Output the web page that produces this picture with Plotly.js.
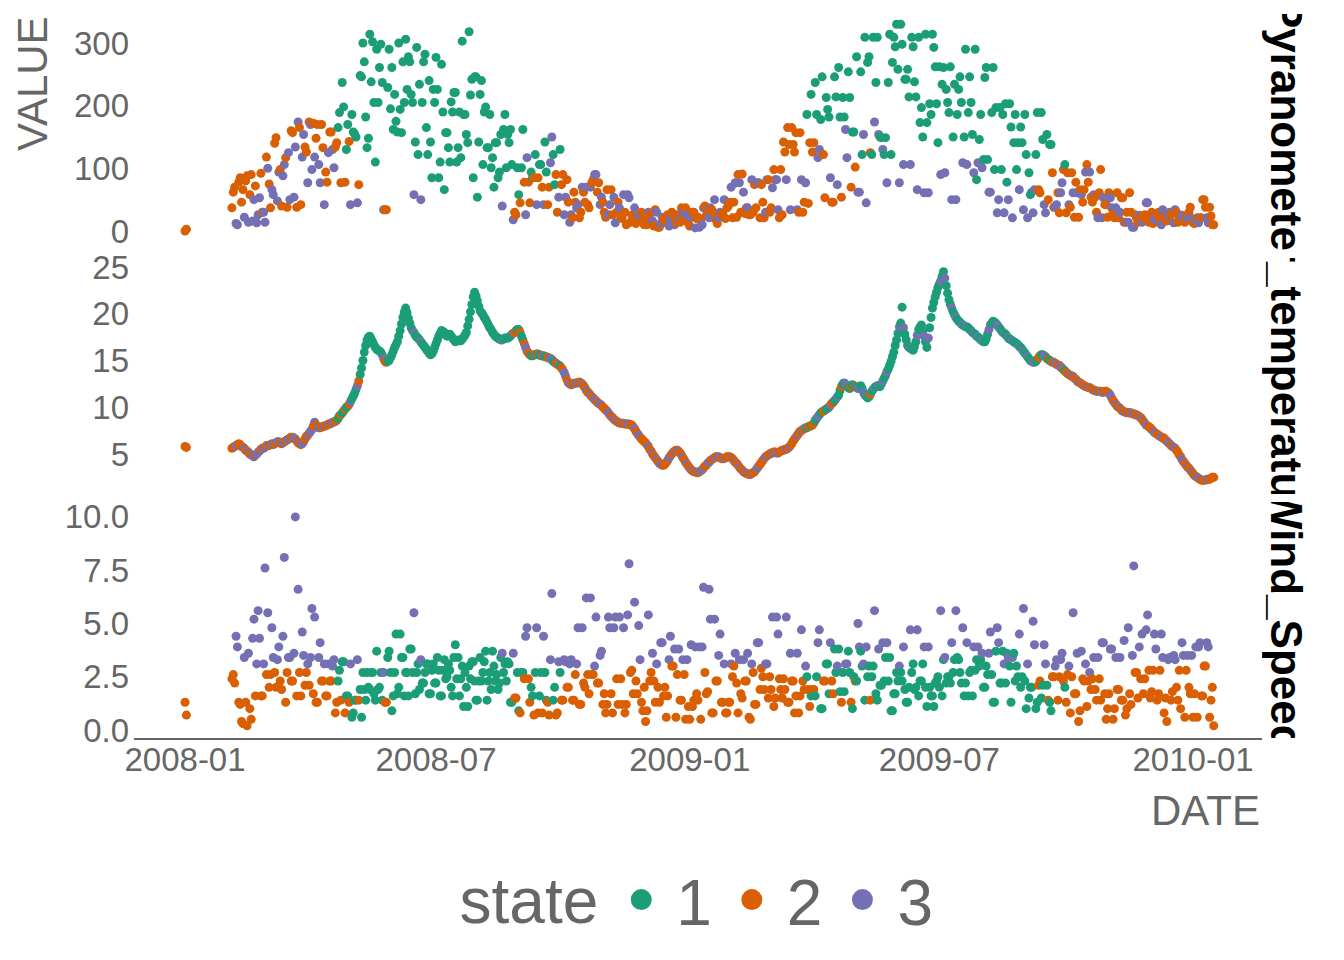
<!DOCTYPE html>
<html>
<head>
<meta charset="utf-8">
<script src="https://cdn.plot.ly/plotly-3.0.1.min.js"></script>
<style>
html,body{margin:0;padding:0;background:#ffffff;}
#chart{width:1344px;height:960px;}
</style>
</head>
<body>
<div id="chart"></div>
<script>
// ---------- data ----------
const stateNames = ['1', '2', '3'];
const stateColors = { 1: '#1B9E77', 2: '#D95F02', 3: '#7570B3' };
const panelNames = ['Pyranometer', 'Air_temperature', 'Wind_Speed'];

// two isolated early observations
const earlyDates = ['2008-01-01', '2008-01-02'];
const earlyState = [2, 2];
const earlyPyranometer = [0, 3];
const earlyAirTemperature = [5.8, 5.7];
const earlyWindSpeed = [1.3, 0.7];

// set A: readings on even days from 2008-02-04, every second day
const firstDateA = '2008-02-04';
// set B: readings on the odd days in between, from 2008-02-05
const firstDateB = '2008-02-05';
const stepDays = 2;

const stateA = [
  2,2,3,2,2,2,3,2,3,3, 3,2,3,3,2,3,2,3,2,3, 2,3,2,3,3,2,3,2,2,3, 3,2,3,2,2,3,2,3,2,1,
  1,2,1,3,1,1,2,1,1,1, 1,1,1,1,1,3,2,1,1,1, 1,1,1,1,1,1,3,1,1,1, 1,1,1,1,1,1,1,1,1,1,
  1,1,1,1,1,1,1,1,1,1, 1,1,1,1,1,1,1,1,3,1, 1,1,3,2,1,1,2,3,2,1, 1,2,1,3,1,2,3,1,2,1,
  2,3,2,3,2,3,2,3,2,2, 3,2,3,2,3,2,2,3,2,3, 2,2,3,2,3,2,3,2,3,2, 2,3,2,2,3,2,3,2,2,3,
  2,2,3,2,2,3,2,2,3,2, 2,3,2,3,2,3,2,3,2,2, 2,3,2,2,3,2,2,3,2,2, 2,3,2,2,3,2,3,2,3,2,
  2,3,2,2,2,3,2,2,3,2, 1,2,1,3,1,2,1,3,2,1, 1,2,1,3,1,1,2,3,1,3, 3,1,1,3,1,1,3,1,1,1,
  1,1,3,1,1,1,3,1,1,1, 1,3,1,1,1,1,1,3,1,1, 1,3,1,1,1,3,1,1,1,3, 1,1,3,1,1,3,1,1,3,1,
  3,1,1,3,1,1,1,3,1,1, 1,3,1,2,1,3,2,1,2,3, 2,3,1,2,2,3,2,2,3,2, 2,3,2,2,3,2,3,2,2,3,
  2,2,3,2,2,3,2,3,2,3, 3,2,3,2,2,3,2,3,2,2, 3,2,3,2,2,3,2,2,3,2, 2,3,2,2,3,2,2
];
const pyranometerA = [
  37,70,10,85,66,80,14,90,50,13, 53,30,14,100,37,58,149,94,40,106, 38,50,157,134,174,42,154,126,174,98, 118,170,77,133,94,125,158,101,141,189,
  237,78,170,42,158,150,74,246,270,133, 314,302,110,205,298,34,34,290,261,218, 158,194,270,306,278,218,58,293,234,205, 282,122,142,226,277,85,266,66,157,110,
  190,221,133,117,186,154,318,242,246,54, 218,106,198,133,101,70,141,94,40,186, 154,162,18,26,58,101,78,117,45,85, 122,85,106,42,94,70,150,74,30,130,
  90,54,46,26,62,37,21,70,46,42, 70,82,90,77,54,30,66,42,26,13, 46,22,58,10,53,25,37,20,26,15, 18,30,12,8,30,6,22,14,26,20,
  26,14,16,37,20,25,8,30,5,22, 18,37,25,21,34,50,12,30,28,20, 40,70,46,22,77,91,28,37,26,30, 37,77,74,21,82,30,69,82,34,98,
  142,82,138,165,126,34,157,30,77,44, 218,141,186,130,246,53,194,85,46,214, 261,54,182,117,213,158,102,62,254,154, 45,278,122,174,309,150,130,149,237,122,
  309,330,77,298,242,258,106,294,214,309, 197,61,173,203,314,262,141,90,261,226, 189,50,234,186,246,109,290,189,205,93, 82,146,101,245,114,62,261,197,50,98,
  29,78,203,21,186,141,166,34,122,93, 62,66,189,61,146,29,50,138,38,42, 29,77,106,93,38,61,78,22,58,66, 106,94,46,54,21,98,53,42,61,37,
  21,61,30,53,14,14,30,6,21,25, 14,26,45,18,12,25,30,10,22,16, 30,30,34,14,21,18,24,30,20,12, 21,21,50,38,13,24,10
];
const airTemperatureA = [
  5.6,5.8,6.0,6.0,5.7,5.4,5.2,4.9,4.7,5.0, 5.3,5.6,5.7,5.9,6.0,6.0,6.2,6.3,6.1,6.3, 6.5,6.7,6.8,6.6,6.2,6.0,6.3,6.9,7.2,7.6, 8.4,7.9,7.8,7.9,8.0,8.2,8.3,8.4,8.6,9.1,
  9.4,9.8,10.1,10.6,11.2,11.9,12.8,14.2,15.9,17.2, 17.6,17.0,16.4,16.1,15.9,15.2,14.8,15.0,15.6,16.4, 17.0,18.2,19.6,20.6,19.5,18.5,18.0,17.5,17.2,16.8, 16.4,16.0,15.6,16.0,16.8,17.6,18.2,18.0,17.6,17.8,
  17.4,17.0,17.2,17.1,17.5,18.0,19.4,21.0,22.3,21.4, 20.3,19.9,19.4,18.8,18.3,17.8,17.5,17.3,17.2,17.4, 17.4,17.6,17.9,18.2,18.3,17.6,16.8,16.0,15.6,15.5, 15.6,15.7,15.5,15.5,15.4,15.3,15.1,14.8,14.6,14.4,
  14.0,13.3,12.6,12.4,12.5,12.6,12.7,12.5,12.1,11.6, 11.3,11.0,10.7,10.4,10.2,9.9,9.6,9.2,8.9,8.6, 8.4,8.3,8.3,8.2,8.2,8.1,7.7,7.2,6.8,6.5, 6.2,5.8,5.3,4.8,4.4,4.0,3.8,3.9,4.3,4.8,
  5.2,5.4,5.3,4.9,4.4,3.9,3.5,3.2,3.1,3.0, 3.2,3.5,3.8,4.1,4.4,4.6,4.7,4.6,4.5,4.6, 4.7,4.6,4.3,4.0,3.6,3.3,3.0,2.9,2.8,3.0, 3.3,3.7,4.1,4.5,4.8,5.0,5.1,5.2,5.1,5.3,
  5.4,5.5,5.7,6.1,6.6,7.0,7.4,7.6,7.8,7.9, 8.0,8.3,8.8,9.2,9.5,9.7,9.9,10.2,10.5,10.9, 11.3,12.2,12.6,12.3,12.0,12.4,12.2,12.0,12.3,11.6, 11.2,11.1,11.7,12.1,12.3,12.2,12.8,13.4,14.1,14.9,
  15.9,17.2,18.6,20.7,17.8,16.6,16.3,16.1,17.0,18.3, 18.8,17.6,16.4,18.5,20.6,21.8,22.8,23.5,24.5,23.0, 21.5,20.6,19.9,19.4,19.1,18.8,18.6,18.5,18.2,17.9, 17.6,17.4,17.1,17.0,17.8,18.8,19.2,19.0,18.6,18.2,
  17.9,17.6,17.3,17.1,16.9,16.7,16.4,16.0,15.6,15.2, 14.9,14.8,15.1,15.5,15.6,15.4,15.1,14.9,14.8,14.6, 14.5,14.2,13.9,13.6,13.4,13.3,13.0,12.7,12.5,12.3, 12.2,12.1,11.9,11.8,11.7,11.7,11.6,11.7,11.5,11.0,
  10.5,10.1,9.9,9.6,9.5,9.4,9.4,9.3,9.2,9.0, 8.7,8.3,8.0,7.8,7.5,7.2,7.0,6.8,6.7,6.4, 6.1,5.8,5.6,5.2,4.7,4.2,3.8,3.5,3.1,2.7, 2.5,2.3,2.2,2.2,2.3,2.4,2.5
];
const windSpeedA = [
  2.4,2.2,3.9,1.2,0.3,1.3,3.6,0.5,5.2,3.1, 4.3,1.6,7.6,5.5,2.6,3.4,2.0,3.9,1.9,8.1, 2.7,3.4,2.3,10.0,6.6,1.6,3.5,2.7,2.1,5.7, 5.3,1.3,4.1,2.3,1.6,3.1,2.3,3.3,1.3,2.8,
  3.2,0.8,1.6,3.1,0.8,1.4,1.4,0.6,1.9,2.7, 1.9,2.7,1.4,1.9,2.7,2.7,1.3,3.7,0.9,2.7, 1.7,4.5,3.4,2.7,1.6,3.8,5.5,2.7,1.9,2.2, 2.7,3.1,1.7,3.1,2.2,2.8,1.6,3.3,2.5,2.8,
  1.6,4.0,3.4,2.4,1.1,2.0,3.0,3.2,2.3,1.4, 3.4,2.7,3.7,2.3,1.9,3.0,2.6,2.2,3.6,3.1, 3.2,1.3,3.6,1.5,0.9,2.7,2.4,4.8,1.3,1.6, 2.7,0.8,2.7,4.4,1.4,0.7,6.4,2.0,0.8,2.7,
  1.4,3.2,2.0,3.3,1.4,3.1,1.2,4.8,2.0,2.6, 6.2,2.6,5.3,2.2,3.7,1.7,1.2,4.8,0.8,5.3, 1.2,2.4,4.8,1.2,7.8,2.8,6.0,1.7,3.3,0.9, 0.4,5.4,2.7,2.3,3.1,1.3,4.1,2.0,1.6,4.4,
  3.0,0.6,3.8,1.4,2.6,3.3,0.5,1.1,3.9,1.4, 0.5,6.7,1.7,6.6,0.8,5.2,2.3,4.5,1.3,0.8, 1.3,3.1,3.0,2.2,3.3,1.5,2.3,3.6,0.5,2.7, 1.2,4.1,2.9,1.9,3.1,2.5,5.3,1.5,4.5,1.9,
  2.4,5.3,1.3,2.3,0.8,3.6,1.6,2.3,3.0,1.9, 1.6,1.9,2.5,4.7,1.0,2.3,3.1,4.1,1.7,2.7, 3.8,1.3,1.8,3.1,2.7,1.0,2.3,5.0,3.7,3.1, 3.9,3.0,2.5,5.6,1.4,2.1,4.1,3.4,2.3,0.9,
  1.7,2.7,3.0,2.3,1.9,1.3,4.7,3.1,2.0,1.6, 2.3,3.9,1.1,2.0,1.6,2.2,2.5,5.6,3.3,2.2, 2.5,4.1,3.3,3.4,2.7,4.8,2.2,1.6,2.8,3.9, 3.3,3.0,3.6,2.0,2.6,4.6,1.3,3.7,4.1,2.2,
  3.1,3.6,3.0,3.4,2.3,2.5,2.0,5.7,1.0,1.5, 2.0,4.0,1.3,2.3,2.1,3.1,1.4,0.9,2.5,3.3, 2.5,3.6,2.0,2.6,0.8,5.5,1.7,0.4,3.7,2.3, 1.1,2.7,2.4,1.9,3.4,1.4,4.1,0.5,1.7,3.8,
  1.0,1.9,3.4,1.4,0.7,4.8,1.2,7.7,2.7,3.9, 4.5,2.4,5.4,1.5,2.8,3.8,1.7,4.5,0.8,0.4, 3.4,1.8,3.3,1.4,1.0,3.5,2.8,2.0,3.5,1.7, 0.6,4.1,1.6,3.0,3.9,1.4,0.2
];

const stateB = [
  2,3,2,2,3,2,2,3,2,3, 2,3,2,2,3,2,3,2,3,2, 3,2,3,2,2,3,2,3,3,2, 2,3,2,3,2,2,3,2,1,2,
  1,1,2,1,1,3,1,1,1,1, 1,1,1,1,1,2,1,1,1,1, 1,1,1,1,1,1,1,1,3,1, 1,1,1,1,1,1,1,1,1,1,
  1,1,1,1,1,1,1,1,1,1, 1,1,1,1,1,1,1,1,1,1, 1,1,2,1,2,1,3,2,1,2, 3,1,2,1,2,3,1,2,3,2,
  3,2,3,2,2,3,2,2,3,2, 2,3,2,3,2,2,3,2,3,2, 3,2,2,3,2,2,2,3,2,2, 2,2,3,2,2,3,2,2,3,2,
  3,2,2,3,2,2,3,2,2,3, 3,2,2,3,2,2,3,2,3,2, 2,2,3,2,2,3,2,2,3,2, 3,2,2,3,2,2,2,3,2,2,
  2,2,3,2,2,2,3,2,1,2, 2,1,3,1,2,1,1,2,1,3, 1,1,3,1,2,1,1,3,1,1, 1,2,1,1,3,1,1,3,1,1,
  1,1,1,3,1,1,1,1,3,1, 1,1,3,1,1,1,1,1,3,1, 1,1,3,1,1,1,3,1,1,1, 3,1,1,1,3,1,1,3,1,1,
  1,3,1,1,1,3,1,1,3,1, 3,1,2,1,3,1,1,2,3,2, 3,2,2,3,2,2,3,2,2,3, 2,2,3,2,2,3,2,2,3,2,
  3,2,2,3,2,2,3,2,2,2, 2,3,2,2,3,2,2,3,2,3, 2,3,2,2,3,2,3,2,2,3, 3,2,2,3,2,2
];
const pyranometerB = [
  62,12,78,46,22,88,58,16,72,26, 92,30,118,75,66,140,48,98,88,117, 125,160,54,38,165,118,134,77,170,172, 148,106,170,42,78,158,130,134,165,77,
  198,130,143,186,155,45,248,300,182,148, 238,205,290,261,237,34,229,195,162,175, 300,157,205,226,270,205,142,122,50,270, 165,240,85,205,226,110,190,157,133,206,
  221,110,190,303,186,141,217,85,246,142, 240,190,133,186,117,141,85,154,162,101, 141,106,30,101,45,162,26,78,94,85, 42,106,70,142,42,109,122,90,54,74,
  26,82,14,21,46,42,30,62,70,37, 77,90,62,42,46,22,26,66,54,30, 37,20,30,58,14,22,12,26,30,10, 10,26,16,34,6,12,20,14,8,30,
  10,26,14,30,37,12,22,30,20,6, 10,40,28,37,30,18,21,26,50,37, 46,21,77,90,30,62,37,26,82,74, 77,21,46,30,82,37,98,82,21,26,
  126,165,34,138,157,30,82,46,186,141, 126,237,117,178,122,213,182,46,246,74, 182,213,162,254,70,158,278,62,122,309, 269,125,309,237,154,149,122,77,314,269,
  294,258,330,106,242,214,309,238,66,173, 150,314,61,186,293,203,262,234,93,205, 262,150,50,226,205,150,106,246,154,290, 109,186,114,261,62,189,98,29,197,186,
  203,50,166,141,98,66,141,186,21,58, 29,122,66,189,42,154,138,93,38,61, 61,98,29,42,93,22,61,66,46,94, 78,54,58,30,61,21,42,22,53,30,
  37,21,53,14,30,61,6,26,14,21, 21,45,14,30,18,26,13,34,21,25, 26,13,30,21,25,14,21,38,13,18, 13,21,50,21,38,10
];
const airTemperatureB = [
  5.7,5.9,6.1,5.8,5.6,5.3,5.0,4.8,4.9,5.2, 5.5,5.6,5.9,5.9,6.1,6.1,6.3,6.2,6.2,6.4, 6.6,6.8,6.7,6.4,6.1,6.1,6.6,7.0,7.4,8.0, 8.1,7.8,7.9,8.0,8.1,8.2,8.4,8.5,8.8,9.2,
  9.6,10.0,10.3,10.9,11.5,12.3,13.5,15.0,16.6,17.5, 17.3,16.7,16.2,16.0,15.6,14.9,14.9,15.3,16.0,16.7, 17.6,18.9,20.2,20.1,19.0,18.2,17.7,17.4,17.0,16.6, 16.2,15.8,15.7,16.4,17.2,17.9,18.1,17.8,17.7,17.6,
  17.2,17.1,17.1,17.3,17.7,18.7,20.2,21.8,21.9,20.8, 20.1,19.6,19.1,18.5,18.0,17.6,17.4,17.2,17.3,17.4, 17.5,17.8,18.0,18.3,18.0,17.2,16.4,15.8,15.5,15.6, 15.7,15.6,15.5,15.4,15.3,15.2,14.9,14.7,14.5,14.2,
  13.7,12.9,12.5,12.5,12.6,12.6,12.6,12.3,11.8,11.5, 11.1,10.8,10.5,10.3,10.0,9.7,9.4,9.0,8.7,8.5, 8.3,8.3,8.2,8.2,8.1,7.9,7.4,7.0,6.6,6.3, 6.0,5.5,5.0,4.6,4.2,3.9,3.8,4.1,4.6,5.0,
  5.3,5.4,5.1,4.6,4.1,3.7,3.3,3.1,3.0,3.1, 3.3,3.7,4.0,4.3,4.5,4.7,4.7,4.5,4.5,4.7, 4.7,4.5,4.1,3.8,3.4,3.1,2.9,2.8,2.9,3.1, 3.5,3.9,4.3,4.7,4.9,5.1,5.2,5.1,5.2,5.4,
  5.5,5.6,5.9,6.4,6.8,7.2,7.5,7.7,7.8,8.0, 8.1,8.6,9.0,9.4,9.6,9.8,10.0,10.4,10.7,11.1, 11.8,12.5,12.5,12.1,12.2,12.3,12.1,12.2,12.0,11.3, 11.0,11.4,11.9,12.2,12.3,12.5,13.1,13.8,14.5,15.4,
  16.6,17.9,19.0,18.5,17.2,16.4,16.2,16.5,17.7,18.6, 18.2,17.0,17.4,19.6,21.2,22.3,23.2,24.0,23.8,22.2, 21.0,20.2,19.6,19.2,18.9,18.7,18.6,18.3,18.0,17.8, 17.5,17.2,17.0,17.3,18.3,19.0,19.1,18.8,18.4,18.0,
  17.8,17.4,17.2,17.0,16.8,16.5,16.2,15.8,15.4,15.0, 14.8,14.9,15.3,15.6,15.5,15.2,15.0,14.8,14.7,14.5, 14.3,14.0,13.7,13.5,13.3,13.1,12.8,12.6,12.4,12.2, 12.1,12.0,11.8,11.7,11.7,11.6,11.7,11.6,11.3,10.7,
  10.3,10.0,9.7,9.5,9.4,9.4,9.3,9.2,9.1,8.9, 8.5,8.1,7.9,7.6,7.3,7.1,6.9,6.7,6.5,6.2, 5.9,5.7,5.4,4.9,4.4,4.0,3.6,3.3,2.9,2.6, 2.4,2.2,2.2,2.3,2.3,2.5
];
const windSpeedB = [
  2.6,4.4,1.3,0.4,3.4,0.2,1.0,4.3,1.6,5.6, 1.6,3.1,2.6,2.0,4.8,2.7,3.3,2.3,4.4,1.3, 3.4,2.3,3.6,1.6,2.7,4.6,2.1,3.1,3.4,1.7, 1.3,3.4,2.3,3.1,1.6,2.3,3.0,0.8,2.3,1.4,
  3.2,1.6,1.3,0.6,1.4,3.3,1.9,2.7,1.4,2.0, 2.7,1.7,3.7,2.0,1.4,1.3,3.4,2.7,1.6,4.5, 2.0,3.4,1.6,2.7,3.8,2.7,1.7,3.1,3.3,2.2, 3.1,1.7,2.8,2.2,3.4,1.6,2.8,2.4,3.1,2.0,
  3.4,2.4,1.6,3.0,2.7,1.1,2.4,3.2,1.4,2.3, 2.3,3.2,1.4,2.7,3.7,2.3,1.9,3.4,2.7,2.3, 3.1,1.3,1.5,2.7,0.8,2.7,4.4,2.4,2.0,0.7, 4.8,1.6,0.8,2.7,1.3,3.3,1.4,0.7,3.2,1.4,
  3.3,2.0,3.1,1.4,2.6,4.8,1.2,2.2,6.2,1.7, 2.6,3.0,2.2,3.5,1.2,0.8,5.3,1.7,4.8,2.4, 5.3,1.2,0.8,5.4,2.7,1.7,2.3,4.9,1.3,2.0, 0.9,2.3,3.6,1.3,2.0,4.1,1.6,0.6,3.3,3.0,
  3.8,2.6,1.4,3.3,0.5,1.1,4.0,1.4,1.7,3.9, 3.9,2.7,1.8,5.2,0.8,2.3,3.5,1.3,3.1,0.8, 1.3,2.5,3.6,0.8,1.7,3.3,2.3,0.6,3.1,1.2, 4.1,1.9,2.5,3.1,1.5,1.9,1.1,5.3,2.4,1.5,
  1.9,1.3,3.6,2.3,1.6,0.8,4.7,1.9,2.5,1.1, 1.9,1.6,4.1,1.0,2.3,3.1,1.7,2.3,3.8,3.0, 1.8,2.7,3.1,3.7,1.3,2.5,2.3,3.9,3.0,1.4, 2.5,1.4,3.0,1.7,3.8,2.1,2.3,4.1,3.4,0.9,
  1.7,2.3,2.7,3.9,1.3,2.0,2.7,1.9,4.7,2.3, 3.1,2.0,3.9,1.6,1.1,2.3,2.0,1.6,3.4,2.5, 2.2,2.7,5.6,3.3,2.2,1.6,4.1,2.7,1.6,2.8, 3.9,3.3,2.0,3.0,3.6,2.6,1.3,4.8,2.2,3.7,
  2.2,3.4,1.3,3.6,3.0,4.5,2.5,2.3,3.1,2.0, 5.1,1.0,2.1,1.5,4.0,2.1,1.3,2.5,3.0,1.4, 3.3,2.3,1.3,3.0,2.5,1.7,3.6,0.9,2.4,3.1, 2.3,1.9,3.4,1.4,2.4,4.1,1.7,1.0,3.8,0.5,
  3.4,1.9,1.4,4.2,1.0,1.7,3.5,2.7,1.5,2.4, 1.7,4.7,2.8,1.8,4.5,1.4,2.8,3.4,1.5,3.3, 1.4,3.5,2.0,2.8,4.1,0.6,3.5,1.7,0.6,3.9, 3.9,1.6,3.0,4.1,0.6,2.0
];

// axis tick labels
const pyranometerTicks = [0, 100, 200, 300];
const temperatureTicks = [5, 10, 15, 20, 25];
const windTicks = [0, 2.5, 5, 7.5, 10];
const windTickText = ['0.0', '2.5', '5.0', '7.5', '10.0'];

// ---------- build ----------
function addDays(iso, n) {
  const t = Date.parse(iso + 'T00:00:00Z') + n * 86400000;
  return new Date(t).toISOString().slice(0, 10);
}
const records = [];
earlyDates.forEach((d, i) => records.push({ d, s: earlyState[i], p: earlyPyranometer[i], t: earlyAirTemperature[i], w: earlyWindSpeed[i] }));
stateA.forEach((s, i) => records.push({ d: addDays(firstDateA, i * stepDays), s, p: pyranometerA[i], t: airTemperatureA[i], w: windSpeedA[i] }));
stateB.forEach((s, i) => records.push({ d: addDays(firstDateB, i * stepDays), s, p: pyranometerB[i], t: airTemperatureB[i], w: windSpeedB[i] }));
records.sort((a, b) => (a.d < b.d ? -1 : a.d > b.d ? 1 : 0));

const dates = records.map(r => r.d);
const pointColors = records.map(r => stateColors[r.s]);

const GREY = '#666666';
const FONT = '"Liberation Sans", Arial, sans-serif';

function panel(values, yaxis) {
  return {
    type: 'scatter', mode: 'markers', x: dates, y: values,
    xaxis: 'x', yaxis: yaxis, showlegend: false,
    marker: { size: 9, color: pointColors, line: { width: 0 } },
    hoverinfo: 'x+y'
  };
}

const data = [
  panel(records.map(r => r.p), 'y'),
  panel(records.map(r => r.t), 'y2'),
  panel(records.map(r => r.w), 'y3')
];
stateNames.forEach(name => {
  const c = stateColors[name];
  data.push({
    type: 'scatter', mode: 'markers', x: [null], y: [null],
    xaxis: 'x', yaxis: 'y3', name: name, showlegend: true,
    marker: { size: 16, color: c, line: { width: 5, color: c } }
  });
});

const yBase = {
  anchor: 'x', showgrid: false, zeroline: false, showline: false, ticks: '',
  tickfont: { size: 33, color: GREY, family: FONT }, ticklabelstandoff: 4
};

// panel pixel boxes (top, bottom) in page coords
const plotTop = 14, plotBottom = 738;
const plotH = plotBottom - plotTop;
const boxes = [[14, 250], [258, 494], [502, 738]];
const stripCenters = [133, 371, 620];
const dom = b => [(plotBottom - b[1]) / plotH, (plotBottom - b[0]) / plotH];
const pyPix = v => (plotBottom - v) / plotH;

const stripAnn = panelNames.map((name, i) => ({
  text: '<b>' + name + '</b>', xref: 'paper', yref: 'paper',
  x: (1287 - 134) / 1128, y: pyPix(stripCenters[i]), xanchor: 'center', yanchor: 'middle',
  textangle: 90, showarrow: false,
  font: { size: 44, color: '#000000', family: FONT }
}));

const layout = {
  width: 1344, height: 960,
  paper_bgcolor: '#ffffff', plot_bgcolor: '#ffffff',
  margin: { l: 134, r: 82, t: plotTop, b: 960 - plotBottom, pad: 0 },
  font: { family: FONT, color: GREY },
  showlegend: true,
  xaxis: {
    type: 'date', anchor: 'y3', domain: [0, 1],
    range: ['2007-11-25', '2010-02-20'],
    tick0: '2008-01-01', dtick: 'M6', tickformat: '%Y-%m',
    showgrid: false, zeroline: false, showline: true, linecolor: GREY, linewidth: 2,
    ticks: '', tickfont: { size: 33, color: GREY, family: FONT }, ticklabelstandoff: -9
  },
  yaxis: Object.assign({}, yBase, { domain: dom(boxes[0]), range: [-30.3, 346.3], tickvals: pyranometerTicks }),
  yaxis2: Object.assign({}, yBase, { domain: dom(boxes[1]), range: [0.72, 25.96], tickvals: temperatureTicks }),
  yaxis3: Object.assign({}, yBase, { domain: dom(boxes[2]), range: [-0.376, 10.70], tickvals: windTicks, ticktext: windTickText }),
  legend: {
    orientation: 'h', x: 0.5, xanchor: 'center', y: pyPix(900), yanchor: 'middle',
    font: { size: 64, color: GREY, family: FONT },
    title: { text: 'state', side: 'left', font: { size: 64, color: GREY, family: FONT } },
    itemwidth: 60, bgcolor: 'rgba(0,0,0,0)', borderwidth: 0
  },
  annotations: stripAnn.concat([
    {
      text: 'VALUE', xref: 'paper', yref: 'paper', x: (32 - 134) / 1128, y: pyPix(84),
      xanchor: 'center', yanchor: 'middle', textangle: -90, showarrow: false,
      font: { size: 42, color: GREY, family: FONT }
    },
    {
      text: 'DATE', xref: 'paper', yref: 'paper', x: 1, y: pyPix(810),
      xanchor: 'right', yanchor: 'middle', showarrow: false,
      font: { size: 42, color: GREY, family: FONT }
    }
  ])
};

Plotly.newPlot('chart', data, layout, { displayModeBar: false, responsive: false }).then(gd => {
  const NS = 'http://www.w3.org/2000/svg';
  const fl = gd._fullLayout;
  const sz = fl._size;
  // clip each strip label to its own panel strip, as in the reference
  ['yaxis', 'yaxis2', 'yaxis3'].forEach((ax, i) => {
    const g = gd.querySelector('g.annotation[data-index="' + i + '"]');
    if (!g) return;
    const svg = g.ownerSVGElement;
    let defs = svg.querySelector('defs');
    if (!defs) { defs = document.createElementNS(NS, 'defs'); svg.insertBefore(defs, svg.firstChild); }
    const d = fl[ax].domain;
    const top = sz.t + (1 - d[1]) * sz.h;
    const bottom = sz.t + (1 - d[0]) * sz.h;
    const cp = document.createElementNS(NS, 'clipPath');
    cp.setAttribute('id', 'stripclip' + i);
    const r = document.createElementNS(NS, 'rect');
    r.setAttribute('x', sz.l + sz.w);
    r.setAttribute('y', top);
    r.setAttribute('width', fl.width - (sz.l + sz.w));
    r.setAttribute('height', bottom - top);
    cp.appendChild(r);
    defs.appendChild(cp);
    g.setAttribute('clip-path', 'url(#stripclip' + i + ')');
  });
  // align the legend title baseline with the legend entries
  const lt = gd.querySelector('.legendtitletext');
  if (lt) {
    const y = parseFloat(lt.getAttribute('y') || '0');
    lt.setAttribute('y', y - 12);
  }
});
</script>
</body>
</html>
